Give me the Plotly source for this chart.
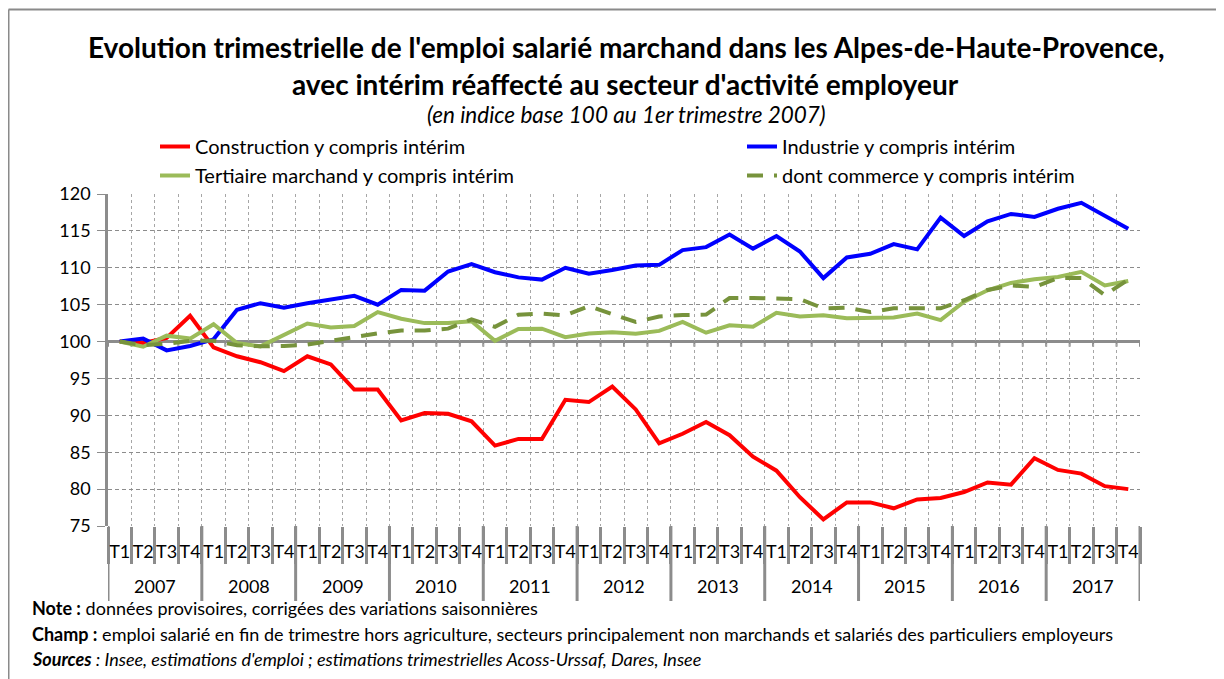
import plotly.graph_objects as go

# ---------------- data ----------------
years = ["2007", "2008", "2009", "2010", "2011", "2012", "2013", "2014", "2015", "2016", "2017"]
quarters = ["T1", "T2", "T3", "T4"]

construction = [100.0, 99.8, 100.5, 103.5, 99.2, 98.0, 97.2, 96.0, 98.0, 96.9, 93.5, 93.5,
                89.3, 90.3, 90.2, 89.2, 85.9, 86.8, 86.8, 92.1, 91.8, 93.9, 90.8, 86.2,
                87.5, 89.1, 87.3, 84.4, 82.5, 78.9, 75.9, 78.2, 78.2, 77.4, 78.6, 78.8,
                79.6, 80.9, 80.6, 84.2, 82.6, 82.1, 80.4, 80.0]
industrie = [100.0, 100.4, 98.8, 99.4, 100.3, 104.3, 105.2, 104.6, 105.2, 105.7, 106.2, 105.0,
             107.0, 106.9, 109.5, 110.5, 109.4, 108.7, 108.4, 110.0, 109.2, 109.7, 110.3, 110.4,
             112.4, 112.8, 114.5, 112.6, 114.3, 112.2, 108.6, 111.4, 111.9, 113.2, 112.5, 116.8,
             114.3, 116.3, 117.3, 116.9, 118.0, 118.8, 117.1, 115.3]
tertiaire = [100.0, 99.3, 100.8, 100.4, 102.35, 99.8, 99.35, 100.85, 102.45, 101.9, 102.1, 104.0,
             103.1, 102.5, 102.5, 102.75, 100.1, 101.7, 101.75, 100.6, 101.1, 101.25, 101.05, 101.45,
             102.65, 101.2, 102.2, 102.0, 103.9, 103.4, 103.55, 103.15, 103.25, 103.25, 103.8, 102.9,
             105.4, 106.95, 107.95, 108.45, 108.75, 109.45, 107.6, 108.2]
commerce = [100.0, 99.5, 99.7, 100.1, 100.1, 99.5, 99.35, 99.4, 99.6, 100.1, 100.7, 101.1,
            101.5, 101.5, 101.75, 103.0, 102.0, 103.65, 103.8, 103.55, 104.8, 103.7, 102.65, 103.4,
            103.6, 103.65, 105.9, 105.9, 105.85, 105.75, 104.5, 104.6, 104.0, 104.5, 104.5, 104.5,
            105.6, 107.0, 107.6, 107.4, 108.6, 108.6, 106.3, 108.4]

series_names = ["Construction y compris intérim", "Industrie y compris intérim",
                "Tertiaire marchand y compris intérim", "dont commerce y compris intérim"]

# ---------------- layout helpers ----------------
# The page body adds an 8px offset, so the figure is made 8px smaller
W, H = 1216, 671
L, R, T, B = 100, 84, 186, 153
PW, PH = W - L - R, H - T - B
FONT = "Lato"
GRAY = "#8c8c8c"


def px(xpage):
    return (xpage - 8 - L) / PW


def py(ypage):
    return (H - B - (ypage - 8)) / PH


n = len(years) * len(quarters)
xs = list(range(n))
tick_text = [q for _ in years for q in quarters]

fig = go.Figure()
styles = [
    dict(color="#ff0000", width=4),
    dict(color="#0000ff", width=4),
    dict(color="#9bbb59", width=4),
    dict(color="#77933c", width=4, dash="16px,11px"),
]
legends = ["legend", "legend2", "legend", "legend2"]
for name, vals, st, lg in zip(series_names, [construction, industrie, tertiaire, commerce], styles, legends):
    fig.add_trace(go.Scatter(x=xs, y=vals, mode="lines", name=name, line=st, legend=lg))

shapes = []
# chart frame (top and left edges visible)
shapes.append(dict(type="line", xref="paper", yref="paper", x0=px(8.5), x1=px(1240),
                   y0=py(9.5), y1=py(9.5), line=dict(color="#8a8a8a", width=2)))
shapes.append(dict(type="line", xref="paper", yref="paper", x0=px(8.5), x1=px(8.5),
                   y0=py(9.5), y1=py(700), line=dict(color="#8a8a8a", width=2)))
# horizontal axis crossing at 100
shapes.append(dict(type="line", xref="paper", yref="y", x0=0, x1=1, y0=100, y1=100,
                   line=dict(color=GRAY, width=3), layer="below"))
for i in range(n + 1):
    shapes.append(dict(type="line", xref="x", yref="y", x0=i - 0.5, x1=i - 0.5,
                       y0=100, y1=99.3, line=dict(color=GRAY, width=2), layer="below"))
# year separators in the label area
for k in range(len(years) + 1):
    shapes.append(dict(type="line", xref="x", yref="paper", x0=k * 4 - 0.5, x1=k * 4 - 0.5,
                       y0=0, y1=py(601), line=dict(color=GRAY, width=3)))


def ann(text, xp, yp, size, xanchor="center", xref="paper"):
    return dict(text=text, x=xp, y=py(yp), xref=xref, yref="paper", showarrow=False,
                xanchor=xanchor, yanchor="middle",
                font=dict(family=FONT, size=size, color="black"))


annotations = [
    ann("<b>Evolution trimestrielle de l'emploi salarié marchand dans les Alpes-de-Haute-Provence,</b>",
        px(626), 47, 28),
    ann("<b>avec intérim réaffecté au secteur d'activité employeur</b>", px(625), 84, 28),
    ann("<i>(en indice base 100 au 1er trimestre 2007)</i>", px(626), 115, 22.5),
    ann("<b>Note :</b> données provisoires, corrigées des variations saisonnières",
        px(30), 608, 18, xanchor="left"),
    ann("<b>Champ :</b> emploi salarié en fin de trimestre hors agriculture, secteurs principalement non marchands et salariés des particuliers employeurs",
        px(30), 634, 18, xanchor="left"),
    ann("<b><i>Sources</i></b><i> : Insee, estimations d'emploi ; estimations trimestrielles Acoss-Urssaf, Dares, Insee</i>",
        px(30), 659, 18, xanchor="left"),
]
for k, yr in enumerate(years):
    annotations.append(ann(yr, k * 4 + 1.5, 586, 18, xref="x"))

legend_common = dict(orientation="v", yanchor="top", xanchor="left", traceorder="normal",
                     font=dict(family=FONT, size=20, color="black"), bgcolor="rgba(0,0,0,0)")

fig.update_layout(
    width=W, height=H, autosize=False,
    margin=dict(l=L, r=R, t=T, b=B, pad=0),
    paper_bgcolor="white", plot_bgcolor="white",
    font=dict(family=FONT, size=18, color="black"),
    showlegend=True,
    legend=dict(x=px(155), y=py(127), **legend_common),
    legend2=dict(x=px(742), y=py(127), **legend_common),
    xaxis=dict(range=[-0.5, n - 0.5], tickmode="array", tickvals=xs, ticktext=tick_text,
               ticks="", showgrid=False, showline=False, zeroline=False,
               ticklabelstandoff=13, tickfont=dict(family=FONT, size=18, color="black"),
               minor=dict(tickmode="array", tickvals=[i - 0.5 for i in range(n + 1)],
                          ticks="outside", ticklen=37, tickwidth=3, tickcolor=GRAY,
                          showgrid=True, gridcolor="#a6a6a6", gridwidth=1, griddash="dot")),
    yaxis=dict(range=[75, 120], tickmode="linear", tick0=75, dtick=5,
               showgrid=True, gridcolor="#8c8c8c", gridwidth=1.2, griddash="4px,3px",
               showline=True, linecolor=GRAY, linewidth=2.5, zeroline=False,
               ticks="outside", ticklen=8, tickcolor=GRAY, tickwidth=1,
               ticklabelstandoff=3,
               tickfont=dict(family=FONT, size=18, color="black")),
    shapes=shapes, annotations=annotations,
)

fig.write_html("out.html")
